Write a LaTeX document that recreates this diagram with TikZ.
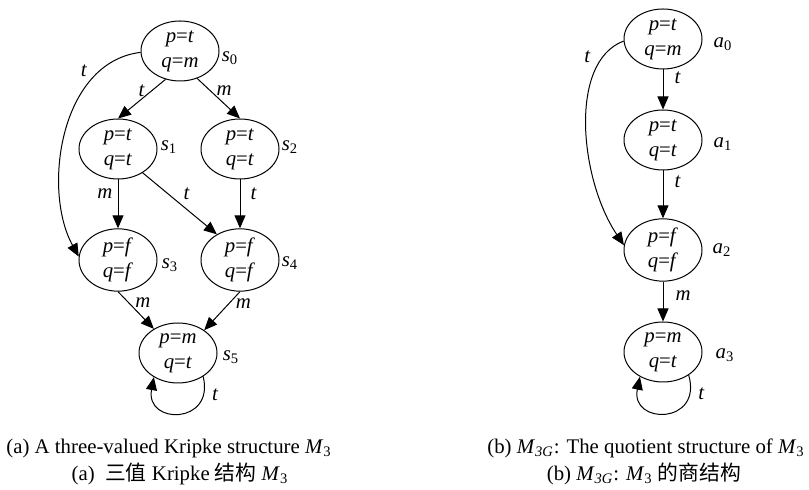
\documentclass[tikz,border=0pt]{standalone}
\usepackage{fontspec}
\setmainfont{Liberation Serif}
\newfontfamily\cjk{Noto Sans CJK SC}
\usepackage{tikz}
\usetikzlibrary{arrows.meta,positioning,shapes.geometric}
\newcommand{\valof}[2]{\textit{#1}=\textit{#2}}
\newcommand{\stname}[2]{\textit{#1}\textsubscript{#2}}

\begin{document}
\begin{tikzpicture}[x=0.5pt,y=0.5pt,>={Triangle[length=6.5pt,width=5.5pt]},
  every node/.style={font=\fontsize{10.4}{12.5}\selectfont},
  state/.style={draw,ellipse,line width=0.5pt,minimum width=39pt,
    minimum height=30pt,inner sep=0pt,align=center},
  lbl/.style={inner sep=1pt},
  tr/.style={->,line width=0.5pt}]
  \useasboundingbox (0,0) rectangle (809,-490);

  % (a) the structure M_3
  \node[state] (s0) at (180,-51) {\valof{p}{t}\\\valof{q}{m}};
  \node[state] (s1) at (118,-149) {\valof{p}{t}\\\valof{q}{t}};
  \node[state] (s2) at (240,-149) {\valof{p}{t}\\\valof{q}{t}};
  \node[state] (s3) at (118,-260) {\valof{p}{f}\\\valof{q}{f}};
  \node[state] (s4) at (240,-260) {\valof{p}{f}\\\valof{q}{f}};
  \node[state] (s5) at (178,-353) {\valof{p}{m}\\\valof{q}{t}};
  \node (n0) at (230,-58) {\stname{s}{0}};
  \node (n1) at (169,-147) {\stname{s}{1}};
  \node (n2) at (290,-147) {\stname{s}{2}};
  \node (n3) at (170,-265) {\stname{s}{3}};
  \node (n4) at (290,-263) {\stname{s}{4}};
  \node (n5) at (231,-357) {\stname{s}{5}};

  \draw[tr] (s0.243) -- (s1.north) node[lbl,pos=0.3,left=2pt] {\textit{t}};
  \draw[tr] (s0.302) -- (s2.north) node[lbl,pos=0.3,right=2pt] {\textit{m}};
  \draw[tr] (s0.182) .. controls (60,-62) and (42,-190) .. (s3.175)
    node[lbl,pos=0.2,left=5pt] {\textit{t}};
  \draw[tr] (s1.south) -- (s3.north) node[lbl,pos=0.29,left=1.5pt] {\textit{m}};
  \draw[tr] (s1.316) -- (s4.132) node[lbl,midway,above right=1pt] {\textit{t}};
  \draw[tr] (s2.south) -- (s4.north) node[lbl,pos=0.29,right=4pt] {\textit{t}};
  \draw[tr] (s3.south) -- (s5.135) node[lbl,pos=0.3,right=2pt] {\textit{m}};
  \draw[tr] (s4.south) -- (s5.41) node[lbl,pos=0.3,right=2pt] {\textit{m}};
  \draw[tr] (s5.317) .. controls (215,-425) and (145,-425) .. (s5.225)
    node[lbl,pos=0.15,right=3pt] {\textit{t}};

  % (b) the quotient M_3G
  \node[state] (a0) at (663,-39) {\valof{p}{t}\\\valof{q}{m}};
  \node[state] (a1) at (663,-140) {\valof{p}{t}\\\valof{q}{t}};
  \node[state] (a2) at (663,-250) {\valof{p}{f}\\\valof{q}{f}};
  \node[state] (a3) at (663,-352) {\valof{p}{m}\\\valof{q}{t}};
  \node (b0) at (723,-44) {\stname{a}{0}};
  \node (b1) at (723,-144) {\stname{a}{1}};
  \node (b2) at (722,-250) {\stname{a}{2}};
  \node (b3) at (725,-355) {\stname{a}{3}};

  \draw[tr] (a0.south) -- (a1.north) node[lbl,pos=0.2,right=4.5pt] {\textit{t}};
  \draw[tr] (a1.south) -- (a2.north) node[lbl,pos=0.23,right=4.5pt] {\textit{t}};
  \draw[tr] (a2.south) -- (a3.north) node[lbl,pos=0.35,right=5pt] {\textit{m}};
  \draw[tr] (a0.183) .. controls (568,-62) and (580,-180) .. (a2.173)
    node[lbl,pos=0.15,left=5pt] {\textit{t}};
  \draw[tr] (a3.318) .. controls (703,-425) and (630,-425) .. (a3.227)
    node[lbl,pos=0.15,right=3pt] {\textit{t}};

  % captions
  \node[anchor=base] (capa) at (169,-454)
    {(a) A three-valued Kripke structure \stname{M}{3}};
  \node[anchor=base] (capazh) at (180,-481)
    {(a)\ \ {\cjk 三值} Kripke {\cjk 结构} \stname{M}{3}};
  \node[anchor=base] (capb) at (646,-454)
    {(b) \stname{M}{\textit{3G}}: The quotient structure of \stname{M}{3}};
  \node[anchor=base] (capbzh) at (644,-481)
    {(b) \stname{M}{\textit{3G}}: \stname{M}{3} {\cjk 的商结构}};
\end{tikzpicture}
\end{document}
